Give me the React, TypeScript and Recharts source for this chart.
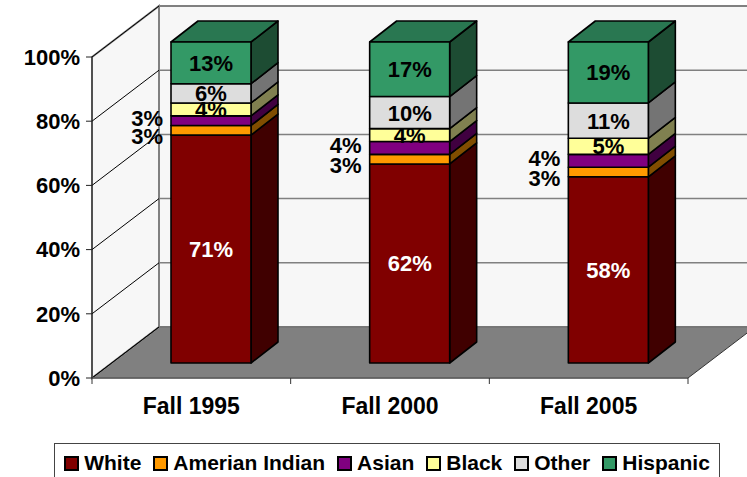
import React from 'react';
import { ComposedChart, Bar, XAxis, YAxis, CartesianGrid, Legend, LabelList } from 'recharts';

const years = ['Fall 1995', 'Fall 2000', 'Fall 2005'];
const white = [71, 62, 58];
const amerianIndian = [3, 3, 3];
const asian = [3, 4, 4];
const black = [4, 4, 5];
const other = [6, 10, 11];
const hispanic = [13, 17, 19];
const yTicks = [0, 20, 40, 60, 80, 100];

const data = years.map((year, i) => ({
  year,
  white: white[i],
  amerianIndian: amerianIndian[i],
  asian: asian[i],
  black: black[i],
  other: other[i],
  hispanic: hispanic[i],
}));

const FONT = "'Liberation Sans', Arial, sans-serif";

// 3d projection: full depth of the room, where the bars sit and how deep they are
const ROOM_DX = 67;
const ROOM_DY = -51;
const BAR_DX = 20;
const BAR_DY = -15;
const DEPTH_X = 27;
const DEPTH_Y = -21;

type Series = {
  key: string;
  name: string;
  front: string;
  side: string;
  top?: string;
  label: 'center' | 'leftUp' | 'leftDown';
  labelColor: string;
};

const series: Series[] = [
  { key: 'white', name: 'White', front: '#800000', side: '#400000', label: 'center', labelColor: '#fff' },
  { key: 'amerianIndian', name: 'Amerian Indian', front: '#FF9900', side: '#804D00', label: 'leftDown', labelColor: '#000' },
  { key: 'asian', name: 'Asian', front: '#800080', side: '#400040', label: 'leftUp', labelColor: '#000' },
  { key: 'black', name: 'Black', front: '#FFFF99', side: '#808050', label: 'center', labelColor: '#000' },
  { key: 'other', name: 'Other', front: '#DDDDDD', side: '#747474', label: 'center', labelColor: '#000' },
  { key: 'hispanic', name: 'Hispanic', front: '#339966', side: '#1D4C33', top: '#297751', label: 'center', labelColor: '#000' },
];

const Block = (props: any) => {
  const { side, top, fill } = props;
  const x = props.x + BAR_DX;
  const y = props.y + BAR_DY;
  const w = props.width;
  const h = props.height;
  if (!w || !h) return null;
  const edge = { stroke: '#000', strokeWidth: 1.6, strokeLinejoin: 'round' as const };
  return (
    <g>
      <polygon
        points={`${x + w},${y} ${x + w + DEPTH_X},${y + DEPTH_Y} ${x + w + DEPTH_X},${y + h + DEPTH_Y} ${x + w},${y + h}`}
        fill={side}
        {...edge}
      />
      {top && (
        <polygon
          points={`${x},${y} ${x + DEPTH_X},${y + DEPTH_Y} ${x + w + DEPTH_X},${y + DEPTH_Y} ${x + w},${y}`}
          fill={top}
          {...edge}
        />
      )}
      <rect x={x} y={y} width={w} height={h} fill={fill} {...edge} />
    </g>
  );
};

const makeLabel = (s: Series) => (p: any) => {
  const { x, y, width, height, value } = p;
  const cy = y + height / 2 + BAR_DY;
  const common = { fontSize: 22, fontWeight: 'bold', fontFamily: FONT, fill: s.labelColor };
  if (s.label === 'center') {
    return (
      <text x={x + width / 2 + BAR_DX} y={cy} dy="0.36em" textAnchor="middle" {...common}>
        {value}%
      </text>
    );
  }
  const shift = s.label === 'leftUp' ? -3 : 6;
  return (
    <text x={x + BAR_DX - 8} y={cy + shift} dy="0.36em" textAnchor="end" {...common}>
      {value}%
    </text>
  );
};

// back wall, side wall, floor and the bent gridlines
const GridLine = (p: any) => {
  const { x, y, width, height, y1, index } = p;
  const bottom = y + height;
  const wallFill = '#F7F7F7';
  return (
    <g>
      {index === 0 && (
        <g>
          <rect
            x={x + ROOM_DX}
            y={y + ROOM_DY}
            width={width}
            height={height}
            fill={wallFill}
            stroke="#808080"
            strokeWidth={2}
          />
          <polygon
            points={`${x},${y} ${x + ROOM_DX},${y + ROOM_DY} ${x + ROOM_DX},${bottom + ROOM_DY} ${x},${bottom}`}
            fill={wallFill}
            stroke="#808080"
            strokeWidth={2}
          />
          <polygon
            points={`${x},${bottom} ${x + ROOM_DX},${bottom + ROOM_DY} ${x + width + ROOM_DX},${bottom + ROOM_DY} ${x + width},${bottom}`}
            fill="#808080"
            stroke="#333"
            strokeWidth={1}
          />
        </g>
      )}
      <line x1={x} y1={y1} x2={x + ROOM_DX} y2={y1 + ROOM_DY} stroke="#000" strokeWidth={1} />
      <line x1={x + ROOM_DX} y1={y1 + ROOM_DY} x2={x + width + ROOM_DX} y2={y1 + ROOM_DY} stroke="#808080" strokeWidth={1.5} />
    </g>
  );
};

const XTick = (p: any) => {
  const { x, y, payload, index, visibleTicksCount } = p;
  const off = payload && payload.offset ? payload.offset : 99.3;
  const last = index === (visibleTicksCount ?? years.length) - 1;
  return (
    <g>
      <line x1={x - off} y1={y} x2={x - off} y2={y + 6} stroke="#333" strokeWidth={1} />
      {last && <line x1={x + off} y1={y} x2={x + off} y2={y + 6} stroke="#333" strokeWidth={1} />}
      <text x={x} y={y + 36} textAnchor="middle" fontSize={23} fontWeight="bold" fontFamily={FONT} fill="#000">
        {payload.value}
      </text>
    </g>
  );
};

const LegendBox = (props: any) => {
  const payload = props.payload || [];
  // keep the stacking order, the legend otherwise comes out sorted by name
  const order = (name: string) => series.findIndex((s) => s.name === name);
  const items = [...payload].sort((a: any, b: any) => order(a.value) - order(b.value));
  return (
    <div
      style={{
        boxSizing: 'border-box',
        width: 666,
        height: 40,
        border: '1px solid #444',
        background: '#fff',
        display: 'flex',
        alignItems: 'center',
        justifyContent: 'center',
        gap: 12,
        fontFamily: FONT,
        fontWeight: 'bold',
        fontSize: 21,
        color: '#000',
      }}
    >
      {items.map((item: any) => (
        <div key={item.value} style={{ display: 'flex', alignItems: 'center', gap: 5 }}>
          <span
            style={{
              display: 'inline-block',
              boxSizing: 'border-box',
              width: 15,
              height: 15,
              background: item.color,
              border: '2px solid #000',
            }}
          />
          <span>{item.value}</span>
        </div>
      ))}
    </div>
  );
};

export default function App() {
  return (
    <div style={{ position: 'absolute', left: 0, top: 0, background: '#fff' }}>
      <ComposedChart
        width={747}
        height={477}
        data={data}
        margin={{ top: 57, right: 59, bottom: 0, left: 0 }}
        barSize={80}
      >
        <CartesianGrid vertical={false} horizontal={(p: any) => <GridLine {...p} />} />
        <XAxis
          dataKey="year"
          height={99}
          interval={0}
          tickSize={0}
          tickMargin={0}
          tickLine={false}
          axisLine={{ stroke: '#666', strokeWidth: 1.5 }}
          tick={<XTick />}
        />
        <YAxis
          domain={[0, 100]}
          ticks={yTicks}
          interval={0}
          width={92}
          tickSize={6}
          tickMargin={6}
          tickFormatter={(v: number) => `${v}%`}
          axisLine={{ stroke: '#222' }}
          tickLine={{ stroke: '#222' }}
          tick={{ fontSize: 22, fontWeight: 'bold', fill: '#000', fontFamily: FONT }}
        />
        {series.map((s) => (
          <Bar
            key={s.key}
            dataKey={s.key}
            name={s.name}
            stackId="a"
            fill={s.front}
            barSize={80}
            isAnimationActive={false}
            shape={(p: any) => <Block {...p} fill={s.front} side={s.side} top={s.top} />}
          >
            <LabelList dataKey={s.key} content={makeLabel(s)} />
          </Bar>
        ))}
        <Legend
          layout="vertical"
          align="center"
          verticalAlign="middle"
          itemSorter={null as any}
          wrapperStyle={{ left: 54, top: 443, width: 666 }}
          content={<LegendBox />}
        />
      </ComposedChart>
    </div>
  );
}
